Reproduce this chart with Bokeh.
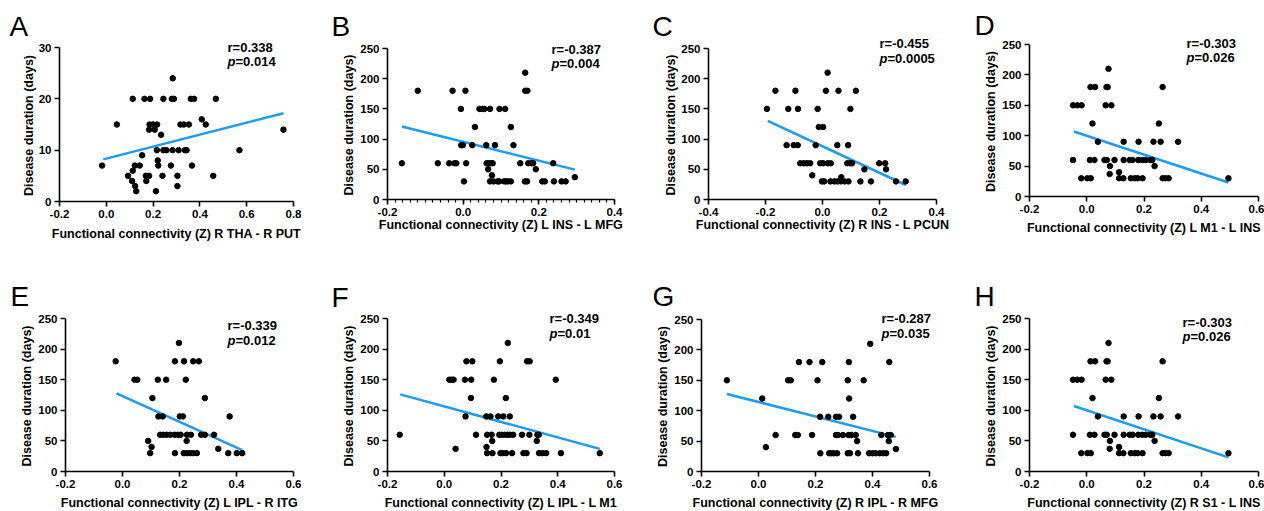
import math
import numpy as np
from bokeh.plotting import figure
from bokeh.layouts import row, column
from bokeh.models import Range1d, FixedTicker, PrintfTickFormatter, Label
from bokeh.embed import file_html
from bokeh.resources import INLINE

FONT = "Liberation Sans"
LINE_COLOR = "#1A9CF0"

# ---------------- data ----------------
A_x = [0.284,
       0.113, 0.163, 0.187, 0.244, 0.280, 0.289, 0.361, 0.375, 0.468,
       0.408,
       0.045, 0.185, 0.200, 0.217, 0.317, 0.331, 0.353, 0.425,
       0.183, 0.207, 0.757,
       0.234,
       0.216, 0.244, 0.257, 0.283, 0.309, 0.336, 0.343, 0.569,
       0.153,
       0.220,
       -0.018, 0.122, 0.143, 0.222, 0.276, 0.366,
       0.113,
       0.093, 0.169, 0.183, 0.240, 0.304, 0.457,
       0.110, 0.171,
       0.123, 0.304,
       0.128, 0.212]
A_y = [24,
       20, 20, 20, 20, 20, 20, 20, 20, 20,
       16,
       15, 15, 15, 15, 15, 15, 15, 15,
       14, 14, 14,
       13,
       10, 10, 10, 10, 10, 10, 10, 10,
       9,
       8,
       7, 7, 7, 7, 7, 7,
       6,
       5, 5, 5, 5, 5, 5,
       4, 4,
       3, 3,
       2, 2]
A_fit_x = [-0.013, 0.757]
A_fit_y = [8.2, 17.2]

B_x = [0.164,
       -0.120, -0.028, 0.006, 0.164, 0.170,
       -0.006, 0.043, 0.051, 0.056, 0.071, 0.096, 0.111,
       0.031, 0.126,
       -0.005, -0.001, 0.024, 0.061, 0.084, 0.133,
       -0.162, -0.067, -0.037, -0.023, -0.018, 0.008, 0.062, 0.067, 0.073, 0.078, 0.151, 0.172, 0.180, 0.185, 0.238,
       0.066, 0.192,
       0.076,
       0.295,
       0.002, 0.071, 0.080, 0.091, 0.095, 0.108, 0.113, 0.118, 0.126, 0.163, 0.169, 0.209, 0.216, 0.240, 0.260, 0.271]
B_y = [210,
       180, 180, 180, 180, 180,
       150, 150, 150, 150, 150, 150, 150,
       120, 120,
       90, 90, 90, 90, 90, 90,
       60, 60, 60, 60, 60, 60, 60, 60, 60, 60, 60, 60, 60, 60, 60,
       50, 50,
       40,
       37,
       30, 30, 30, 30, 30, 30, 30, 30, 30, 30, 30, 30, 30, 30, 30, 30]
B_fit_x = [-0.162, 0.295]
B_fit_y = [121, 49.5]

C_x = [0.018,
       -0.165, -0.095, 0.012, 0.056, 0.117,
       -0.195, -0.120, -0.086, -0.017, 0.098,
       -0.013, 0.002,
       -0.126, -0.101, -0.087, -0.024, 0.052, 0.090,
       -0.078, -0.066, -0.054, -0.043, -0.008, 0.002, 0.018, 0.029, 0.087, 0.097, 0.104, 0.199, 0.220,
       0.147, 0.223,
       -0.036,
       0.066,
       -0.002, 0.006, 0.028, 0.042, 0.053, 0.064, 0.077, 0.091, 0.133, 0.170, 0.258, 0.292]
C_y = [210,
       180, 180, 180, 180, 180,
       150, 150, 150, 150, 150,
       120, 120,
       90, 90, 90, 90, 90, 90,
       60, 60, 60, 60, 60, 60, 60, 60, 60, 60, 60, 60, 60,
       50, 50,
       40,
       37,
       30, 30, 30, 30, 30, 30, 30, 30, 30, 30, 30, 30]
C_fit_x = [-0.192, 0.292]
C_fit_y = [130, 24]

D_x = [0.076,
       0.013, 0.029, 0.069, 0.073, 0.265,
       -0.048, -0.033, -0.018, 0.066, 0.086,
       0.020, 0.252,
       0.039, 0.129, 0.181, 0.233, 0.258, 0.319,
       -0.048, 0.011, 0.027, 0.062, 0.070, 0.097, 0.129, 0.150, 0.160, 0.180, 0.194, 0.206, 0.222, 0.229,
       0.081, 0.237,
       0.113,
       0.080,
       -0.019, 0.002, 0.014, 0.113, 0.128, 0.154, 0.168, 0.178, 0.195, 0.265, 0.275, 0.286, 0.495]
D_y = [210,
       180, 180, 180, 180, 180,
       150, 150, 150, 150, 150,
       120, 120,
       90, 90, 90, 90, 90, 90,
       60, 60, 60, 60, 60, 60, 60, 60, 60, 60, 60, 60, 60, 60,
       50, 50,
       40,
       37,
       30, 30, 30, 30, 30, 30, 30, 30, 30, 30, 30, 30, 30]
D_fit_x = [-0.045, 0.495]
D_fit_y = [107, 23]

E_x = [0.198,
       -0.024, 0.184, 0.216, 0.248, 0.268,
       0.042, 0.052, 0.124, 0.153, 0.222,
       0.105, 0.289,
       0.126, 0.141, 0.201, 0.212, 0.376,
       0.132, 0.143, 0.155, 0.168, 0.183, 0.194, 0.204, 0.226, 0.240, 0.276, 0.289, 0.321,
       0.090, 0.225,
       0.102,
       0.336,
       0.097, 0.184, 0.215, 0.227, 0.238, 0.248, 0.261, 0.371, 0.401, 0.420]
E_y = [210,
       180, 180, 180, 180, 180,
       150, 150, 150, 150, 150,
       120, 120,
       90, 90, 90, 90, 90,
       60, 60, 60, 60, 60, 60, 60, 60, 60, 60, 60, 60,
       50, 50,
       40,
       37,
       30, 30, 30, 30, 30, 30, 30, 30, 30, 30]
E_fit_x = [-0.021, 0.420]
E_fit_y = [127.5, 35]

F_x = [0.224,
       0.078, 0.099, 0.196, 0.292, 0.301,
       0.018, 0.026, 0.033, 0.073, 0.095, 0.175, 0.393,
       0.094, 0.217,
       0.075, 0.148, 0.163, 0.190, 0.208, 0.231,
       -0.157, 0.112, 0.151, 0.167, 0.194, 0.203, 0.213, 0.223, 0.231, 0.243, 0.274, 0.300, 0.328, 0.333,
       0.169, 0.326,
       0.149,
       0.040,
       0.151, 0.170, 0.198, 0.206, 0.218, 0.239, 0.279, 0.290, 0.334, 0.346, 0.359, 0.411, 0.548]
F_y = [210,
       180, 180, 180, 180, 180,
       150, 150, 150, 150, 150, 150, 150,
       120, 120,
       90, 90, 90, 90, 90, 90,
       60, 60, 60, 60, 60, 60, 60, 60, 60, 60, 60, 60, 60, 60,
       50, 50,
       40,
       37,
       30, 30, 30, 30, 30, 30, 30, 30, 30, 30, 30, 30, 30]
F_fit_x = [-0.155, 0.548]
F_fit_y = [126, 37]

G_x = [0.392,
       0.142, 0.179, 0.224, 0.317, 0.459,
       -0.111, 0.104, 0.113, 0.207, 0.313, 0.369,
       0.013, 0.318,
       0.216, 0.245, 0.272, 0.283, 0.332,
       0.060, 0.129, 0.138, 0.188, 0.272, 0.279, 0.296, 0.316, 0.326, 0.341, 0.431, 0.454, 0.464,
       0.346, 0.457,
       0.026,
       0.482,
       0.217, 0.248, 0.256, 0.264, 0.276, 0.313, 0.321, 0.349, 0.388, 0.400, 0.411, 0.425, 0.437, 0.448]
G_y = [210,
       180, 180, 180, 180, 180,
       150, 150, 150, 150, 150, 150,
       120, 120,
       90, 90, 90, 90, 90,
       60, 60, 60, 60, 60, 60, 60, 60, 60, 60, 60, 60, 60,
       50, 50,
       40,
       37,
       30, 30, 30, 30, 30, 30, 30, 30, 30, 30, 30, 30, 30, 30]
G_fit_x = [-0.111, 0.482]
G_fit_y = [127.5, 57]

# Panel H shows the same points as panel D
H_x = list(D_x)
H_y = list(D_y)
H_fit_x = list(D_fit_x)
H_fit_y = list(D_fit_y)

letters = ["A", "B", "C", "D", "E", "F", "G", "H"]
r_texts = ["r=0.338", "r=-0.387", "r=-0.455", "r=-0.303",
           "r=-0.339", "r=-0.349", "r=-0.287", "r=-0.303"]
p_texts = ["=0.014", "=0.004", "=0.0005", "=0.026",
           "=0.012", "=0.01", "=0.035", "=0.026"]
x_titles = ["Functional connectivity (Z) R THA - R PUT",
            "Functional connectivity (Z) L INS - L MFG",
            "Functional connectivity (Z) R INS - L PCUN",
            "Functional connectivity (Z) L M1 - L INS",
            "Functional connectivity (Z) L IPL - R ITG",
            "Functional connectivity (Z) L IPL - L M1",
            "Functional connectivity (Z) R IPL - R MFG",
            "Functional connectivity (Z) R S1 - L INS"]
y_title = "Disease duration (days)"
x_ticks_A = [-0.2, 0.0, 0.2, 0.4, 0.6, 0.8]
x_ticks_B = [-0.2, 0.0, 0.2, 0.4]
x_ticks_C = [-0.4, -0.2, 0.0, 0.2, 0.4]
x_ticks_D = [-0.2, 0.0, 0.2, 0.4, 0.6]
y_ticks_A = [0, 10, 20, 30]
y_ticks_days = [0, 50, 100, 150, 200, 250]

series_x = [A_x, B_x, C_x, D_x, E_x, F_x, G_x, H_x]
series_y = [A_y, B_y, C_y, D_y, E_y, F_y, G_y, H_y]
fits_x = [A_fit_x, B_fit_x, C_fit_x, D_fit_x, E_fit_x, F_fit_x, G_fit_x, H_fit_x]
fits_y = [A_fit_y, B_fit_y, C_fit_y, D_fit_y, E_fit_y, F_fit_y, G_fit_y, H_fit_y]
xticks = [x_ticks_A, x_ticks_B, x_ticks_C, x_ticks_D, x_ticks_D, x_ticks_D, x_ticks_D, x_ticks_D]
yticks = [y_ticks_A] + [y_ticks_days] * 7

# ---------------- layout (page pixels) ----------------
col_edges = [0, 330, 652, 972, 1264]
row_edges = [0, 252, 510]
# axis box L, R, T, B in page pixels
frames = [(59, 293, 47, 201), (387, 614, 48, 199), (708, 936, 48, 199), (1029, 1258, 44, 196),
          (65, 293, 318, 471), (387, 614, 318, 471), (701, 929, 319, 471), (1029, 1258, 318, 471)]
letter_pos = [(9, 37), (331, 37), (652, 37), (974, 36), (10, 307), (331, 308), (652, 307), (974, 307)]
r_pos = [(227, 52), (551, 54), (879, 48), (1186, 48), (227, 330), (549, 323), (881, 323), (1182, 327)]
p_base = [66, 68, 63, 62, 345, 338, 338, 341]
xlab_base = [238, 229, 229, 232, 507, 507, 507, 507]
ylab_base = [33, 353, 675, 995, 31, 353, 667, 995]

SHIFT = 0.4  # rendered text sits this many em below the requested baseline


def make_panel(i):
    L, R, T, B = frames[i]
    ci, ri = i % 4, i // 4
    fl, fr = col_edges[ci], col_edges[ci + 1]
    ft, fb = row_edges[ri], row_edges[ri + 1]
    xmin, xmax = xticks[i][0], xticks[i][-1]
    ymin, ymax = yticks[i][0], yticks[i][-1]

    def dx(px):
        return xmin + (px - L) / (R - L) * (xmax - xmin)

    def dy(py):
        return ymin + (B - py) / (B - T) * (ymax - ymin)

    p = figure(width=fr - fl, height=fb - ft,
               x_range=Range1d(dx(fl), dx(fr)), y_range=Range1d(dy(fb), dy(ft)),
               output_backend="svg", toolbar_location=None, title=None,
               min_border=0, min_border_left=0, min_border_right=0,
               min_border_top=0, min_border_bottom=0)
    p.xgrid.visible = False
    p.ygrid.visible = False
    p.outline_line_color = None
    p.background_fill_color = "white"
    p.border_fill_color = "white"

    for ax in (p.xaxis[0], p.yaxis[0]):
        ax.axis_line_width = 1.6
        ax.axis_line_color = "black"
        ax.major_tick_line_width = 1.6
        ax.major_tick_line_color = "black"
        ax.major_tick_in = 0
        ax.major_tick_out = 5
        ax.minor_tick_line_color = None
        ax.major_label_text_font = FONT
        ax.major_label_text_font_style = "bold"
        ax.major_label_text_font_size = "11.5px"
        ax.major_label_text_color = "black"

    xa, ya = p.xaxis[0], p.yaxis[0]
    xa.fixed_location = ymin
    xa.bounds = (xmin, xmax)
    ya.fixed_location = xmin
    ya.bounds = (ymin, ymax)
    xa.major_label_standoff = 3
    ya.major_label_standoff = 3
    xa.formatter = PrintfTickFormatter(format="%.1f")
    ya.formatter = PrintfTickFormatter(format="%d")
    if i == 1:
        minor = [round(v, 2) for v in np.arange(-0.2, 0.4001, 0.02)]
        xa.ticker = FixedTicker(ticks=xticks[i], minor_ticks=minor)
        xa.minor_tick_line_color = "black"
        xa.minor_tick_line_width = 1.2
        xa.minor_tick_in = 0
        xa.minor_tick_out = 3
    else:
        xa.ticker = FixedTicker(ticks=xticks[i])
    ya.ticker = FixedTicker(ticks=yticks[i])

    p.line(fits_x[i], fits_y[i], line_color=LINE_COLOR, line_width=2.5)
    p.scatter(series_x[i], series_y[i], size=5.5, marker="circle",
              fill_color="black", line_color="black")

    def text(px, py, s, size, style="bold", align="left", angle=0.0):
        sh = SHIFT * size
        if angle:
            px = px - sh
        else:
            py = py - sh
        p.add_layout(Label(x=dx(px), y=dy(py), text=s, angle=angle,
                           text_font=FONT, text_font_style=style,
                           text_font_size=f"{size}px", text_align=align,
                           text_baseline="alphabetic", text_color="black"))

    # axis titles
    text((L + R) / 2, xlab_base[i], x_titles[i], 12.5, align="center")
    text(ylab_base[i], (T + B) / 2 + 1, y_title, 12.5, align="center", angle=math.pi / 2)
    # panel letter
    lx, ly = letter_pos[i]
    text(lx, ly, letters[i], 28, style="normal")
    # statistics
    rx, ry = r_pos[i]
    text(rx, ry, r_texts[i], 13)
    text(rx, p_base[i], "p", 13, style="bold italic")
    text(rx + 8, p_base[i], p_texts[i], 13)
    return p


panels = [make_panel(i) for i in range(8)]
layout = column(row(*panels[:4], spacing=0), row(*panels[4:], spacing=0), spacing=0)

open("out.html", "w").write(file_html(layout, INLINE))
